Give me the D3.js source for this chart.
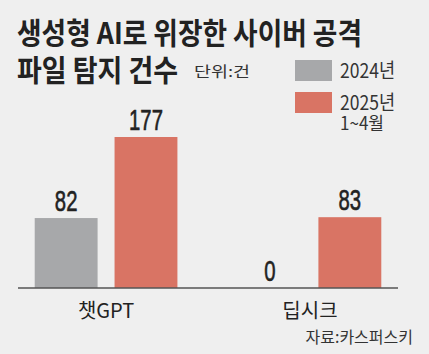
<!DOCTYPE html>
<html>
<head>
<meta charset="utf-8">
<script src="https://cdn.jsdelivr.net/npm/d3@7"></script>
<style>
  html, body { margin: 0; padding: 0; background: #efefef; }
  svg { display: block; }
  text { font-family: 'Noto Sans CJK KR', sans-serif; }
  .num { font-family: 'Liberation Sans Narrow', 'Liberation Sans', sans-serif; }
</style>
</head>
<body>
<div id="chart"></div>
<script>
var w = 429;
var h = 354;

// data
var categories = ['챗GPT', '딥시크'];
var seriesNames = ['2024년', '2025년'];
var values2024 = [82, 0];
var values2025 = [177, 83];
var colors = ['#a7a8aa', '#d97464'];

var svg = d3.select('#chart').append('svg')
    .attr('width', w).attr('height', h);

svg.append('rect').attr('width', w).attr('height', h).attr('fill', '#efefef');

// title
svg.append('text').attr('x', 17).attr('y', 44)
    .attr('font-size', 30).attr('font-weight', 700).attr('fill', '#222')
    .attr('textLength', 345).attr('lengthAdjust', 'spacingAndGlyphs')
    .text('생성형 AI로 위장한 사이버 공격');
svg.append('text').attr('x', 17).attr('y', 81)
    .attr('font-size', 30).attr('font-weight', 700).attr('fill', '#222')
    .attr('textLength', 161).attr('lengthAdjust', 'spacingAndGlyphs')
    .text('파일 탐지 건수');
svg.append('text').attr('x', 194).attr('y', 77)
    .attr('font-size', 15).attr('fill', '#333')
    .attr('textLength', 56).attr('lengthAdjust', 'spacingAndGlyphs')
    .text('단위:건');

// legend
var legend = svg.append('g');
var legendRows = [
  {label: seriesNames[0], sub: null, y: 60},
  {label: seriesNames[1], sub: '1~4월', y: 92}
];
legendRows.forEach(function (d, i) {
  legend.append('rect').attr('x', 295).attr('y', d.y)
      .attr('width', 37).attr('height', 21).attr('fill', colors[i]);
  legend.append('text').attr('x', 340).attr('y', d.y + 18)
      .attr('font-size', 20).attr('fill', '#333')
      .attr('textLength', 55).attr('lengthAdjust', 'spacingAndGlyphs')
      .text(d.label);
  if (d.sub) {
    legend.append('text').attr('x', 340).attr('y', d.y + 38)
        .attr('font-size', 18).attr('fill', '#333')
        .attr('textLength', 44).attr('lengthAdjust', 'spacingAndGlyphs')
        .text(d.sub);
  }
});

// scales
var baseY = 288;
var x0 = d3.scaleBand().domain(categories).range([18, 398])
    .paddingInner(0.3).paddingOuter(0.082);
var x1 = d3.scaleBand().domain(seriesNames).range([0, x0.bandwidth()])
    .paddingInner(0.2125);
var y = d3.scaleLinear().domain([0, 177]).range([baseY, 137]);

var rows = categories.map(function (c, i) {
  return [
    {cat: c, s: seriesNames[0], v: values2024[i], color: colors[0]},
    {cat: c, s: seriesNames[1], v: values2025[i], color: colors[1]}
  ];
});

var groups = svg.selectAll('g.grp').data(rows).enter().append('g')
    .attr('class', 'grp')
    .attr('transform', function (d, i) { return 'translate(' + x0(categories[i]) + ',0)'; });

groups.selectAll('rect').data(function (d) { return d; }).enter().append('rect')
    .attr('x', function (d) { return x1(d.s); })
    .attr('y', function (d) { return y(d.v); })
    .attr('width', x1.bandwidth())
    .attr('height', function (d) { return baseY - y(d.v); })
    .attr('fill', function (d) { return d.color; });

groups.selectAll('text.num').data(function (d) { return d; }).enter().append('text')
    .attr('class', 'num')
    .attr('x', function (d) { return x1(d.s) + x1.bandwidth() / 2; })
    .attr('y', function (d) { return y(d.v) - 7; })
    .attr('text-anchor', 'middle')
    .attr('font-size', 29).attr('fill', '#222')
    .attr('stroke', '#222').attr('stroke-width', 0.6)
    .attr('textLength', function (d) { return String(d.v).length * 11.3; })
    .attr('lengthAdjust', 'spacingAndGlyphs')
    .text(function (d) { return d.v; });

// axis line
svg.append('line').attr('x1', 18).attr('x2', 398)
    .attr('y1', baseY).attr('y2', baseY)
    .attr('stroke', '#555').attr('stroke-width', 1.5);

// category labels
svg.selectAll('text.cat').data(categories).enter().append('text')
    .attr('class', 'cat')
    .attr('x', function (d) { return x0(d) + x0.bandwidth() / 2; })
    .attr('y', 318)
    .attr('text-anchor', 'middle')
    .attr('font-size', 20).attr('fill', '#222')
    .text(function (d) { return d; });

// source
svg.append('text').attr('x', 413).attr('y', 343)
    .attr('text-anchor', 'end')
    .attr('font-size', 16).attr('fill', '#333')
    .text('자료:카스퍼스키');
</script>
</body>
</html>
